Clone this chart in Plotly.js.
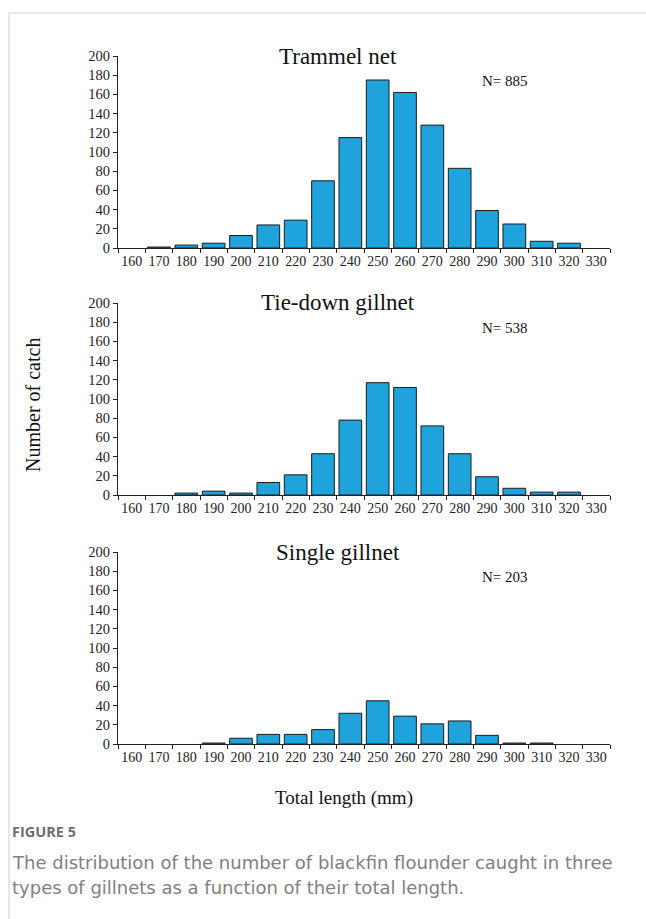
<!DOCTYPE html>
<html>
<head>
<meta charset="utf-8">
<script src="https://cdn.plot.ly/plotly-3.0.1.min.js"></script>
<style>
  html, body { margin: 0; padding: 0; background: #ffffff; }
  #chart { width: 646px; height: 919px; }
</style>
</head>
<body>
<div id="chart"></div>
<script>
// ---- data ----
const lengths = ['160','170','180','190','200','210','220','230','240','250','260','270','280','290','300','310','320','330'];
const trammel = [0, 1, 3, 5, 13, 24, 29, 70, 115, 175, 162, 128, 83, 39, 25, 7, 5, 0];
const tieDown = [0, 0, 2, 4, 2, 13, 21, 43, 78, 117, 112, 72, 43, 19, 7, 3, 3, 0];
const single  = [0, 0, 0, 1, 6, 10, 10, 15, 32, 45, 29, 21, 24, 9, 1, 1, 0, 0];
const panelTitles = ['Trammel net', 'Tie-down gillnet', 'Single gillnet'];
const panelN = ['N= 885', 'N= 538', 'N= 203'];
const yTitle = 'Number of catch';
const xTitle = 'Total length (mm)';
const figLabel = 'FIGURE 5';
const captionLines = ['The distribution of the number of blackfin flounder caught in three',
                      'types of gillnets as a function of their total length.'];

// ---- layout helpers (pixels -> paper) ----
const W = 646, H = 919;
const px = x => x / W;
const py = y => 1 - y / H;

const plotLeft = 118, plotRight = 610;
const panels = [ {top: 56, bottom: 248}, {top: 303, bottom: 495}, {top: 552, bottom: 744} ];
const series = [trammel, tieDown, single];

const serif = 'Liberation Serif, Times New Roman, serif';
const sans = 'Open Sans, Noto Sans, sans-serif';
const capSans = 'DejaVu Sans, Open Sans, sans-serif';

const data = series.map((vals, i) => ({
  type: 'bar',
  x: lengths,
  y: vals,
  xaxis: i === 0 ? 'x' : 'x' + (i + 1),
  yaxis: i === 0 ? 'y' : 'y' + (i + 1),
  marker: { color: '#1fa3dc', line: { color: '#1b1b1b', width: vals.map(v => v > 0 ? 1 : 0) } },
  hoverinfo: 'x+y',
  showlegend: false
}));

const layout = {
  width: W, height: H,
  margin: { l: 0, r: 0, t: 0, b: 0 },
  paper_bgcolor: '#ffffff',
  plot_bgcolor: 'rgba(0,0,0,0)',
  bargap: 0.17,
  font: { family: serif, color: '#222222', size: 14 },
  annotations: [],
  shapes: [
    { type: 'line', xref: 'paper', yref: 'paper', x0: px(9), x1: 1, y0: py(13), y1: py(13),
      line: { color: '#cfcfcf', width: 1 } },
    { type: 'line', xref: 'paper', yref: 'paper', x0: px(9), x1: px(9), y0: py(13), y1: 0,
      line: { color: '#cfcfcf', width: 1 } }
  ]
};

panels.forEach((p, i) => {
  const sx = i === 0 ? '' : String(i + 1);
  layout['xaxis' + sx] = {
    domain: [px(plotLeft), px(plotRight)],
    anchor: 'y' + sx,
    type: 'category',
    range: [-0.5, lengths.length - 0.5],
    tickson: 'boundaries',
    tickangle: 0,
    ticks: 'outside', ticklen: 4, tickwidth: 1, tickcolor: '#222',
    showline: true, linecolor: '#222', linewidth: 1,
    showgrid: false, zeroline: false,
    tickfont: { family: serif, size: 14, color: '#222' },
    fixedrange: true
  };
  layout['yaxis' + sx] = {
    domain: [py(p.bottom), py(p.top)],
    anchor: 'x' + sx,
    range: [0, 200], dtick: 20, tick0: 0,
    ticks: 'outside', ticklen: 4, tickwidth: 1, tickcolor: '#222',
    showline: true, linecolor: '#222', linewidth: 1,
    showgrid: false, zeroline: false,
    tickfont: { family: serif, size: 14.5, color: '#222' },
    fixedrange: true
  };
  layout.annotations.push({
    xref: 'paper', yref: 'paper', x: px(338), y: py(p.top), xanchor: 'center', yanchor: 'middle',
    text: panelTitles[i], showarrow: false, font: { family: serif, size: 23, color: '#111' }
  });
  layout.annotations.push({
    xref: 'paper', yref: 'paper', x: px(505), y: py(p.top + 25), xanchor: 'center', yanchor: 'middle',
    text: panelN[i], showarrow: false, font: { family: serif, size: 15, color: '#111' }
  });
});

layout.annotations.push({
  xref: 'paper', yref: 'paper', x: px(33), y: py(405), xanchor: 'center', yanchor: 'middle',
  text: yTitle, textangle: -90, showarrow: false, font: { family: serif, size: 20, color: '#111' }
});
layout.annotations.push({
  xref: 'paper', yref: 'paper', x: px(344), y: py(798), xanchor: 'center', yanchor: 'middle',
  text: xTitle, showarrow: false, font: { family: serif, size: 19, color: '#111' }
});
layout.annotations.push({
  xref: 'paper', yref: 'paper', x: px(11), y: py(831), xanchor: 'left', yanchor: 'middle',
  text: '<b>' + figLabel + '</b>', showarrow: false, borderpad: 0,
  font: { family: sans, size: 14.5, color: '#6e6e6e' }
});
captionLines.forEach((line, k) => {
  layout.annotations.push({
    xref: 'paper', yref: 'paper', x: px(11), y: py(862 + 25 * k), xanchor: 'left', yanchor: 'middle',
    text: line, showarrow: false, borderpad: 0,
    font: { family: capSans, size: 18, color: '#808080' }
  });
});

Plotly.newPlot('chart', data, layout, { staticPlot: true, displayModeBar: false });
</script>
</body>
</html>
